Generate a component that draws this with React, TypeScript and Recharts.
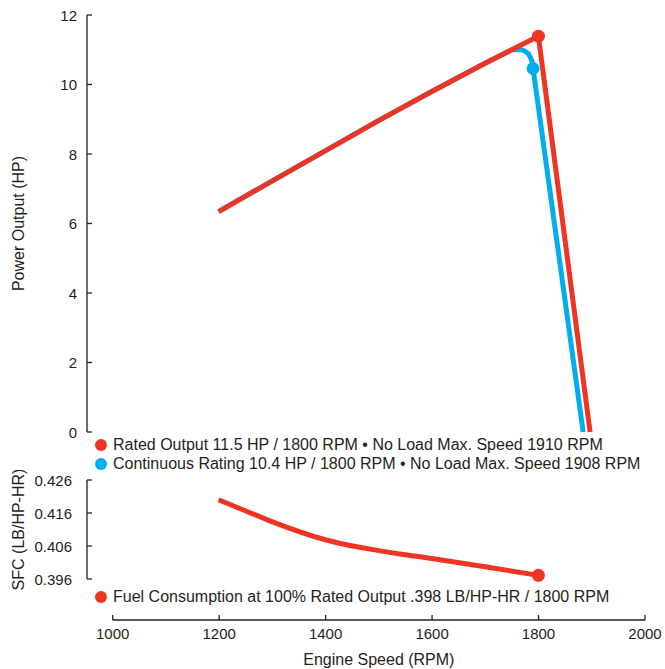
import React from 'react';
import { LineChart, Line, XAxis, YAxis, ReferenceDot, Label } from 'recharts';

const RED = '#EE3524';
const BLUE = '#00AEEF';
const INK = '#231F20';
const FONT = '"Liberation Sans", Arial, Helvetica, sans-serif';

// Rated output curve (HP vs RPM)
const rpmRated = [1200, 1300, 1400, 1500, 1600, 1700, 1800, 1897];
const hpRated = [6.34, 7.22, 8.09, 8.96, 9.8, 10.61, 11.39, 0];

// Continuous rating curve (HP vs RPM)
const rpmCont = [1200, 1300, 1400, 1500, 1600, 1700, 1749, 1758, 1768, 1775, 1781, 1785, 1788, 1790, 1884];
const hpCont = [6.34, 7.22, 8.09, 8.96, 9.8, 10.61, 10.99, 11.01, 11.0, 10.96, 10.89, 10.78, 10.67, 10.46, 0];

// Specific fuel consumption (LB/HP-HR vs RPM)
const rpmSfc = [1200, 1250, 1300, 1400, 1500, 1600, 1700, 1800];
const sfcVals = [0.42, 0.4167, 0.4134, 0.4079, 0.4046, 0.4022, 0.3997, 0.3971];

const ratedPoint = { rpm: 1800, hp: 11.39 };
const contPoint = { rpm: 1790, hp: 10.46 };
const sfcPoint = { rpm: 1800, sfc: 0.3971 };

const hpTicks = [0, 2, 4, 6, 8, 10, 12];
const sfcTicks = [0.396, 0.406, 0.416, 0.426];
const rpmTicks = [1000, 1200, 1400, 1600, 1800, 2000];

const legendRated = 'Rated Output 11.5 HP / 1800 RPM • No Load Max. Speed 1910 RPM';
const legendCont = 'Continuous Rating 10.4 HP / 1800 RPM • No Load Max. Speed 1908 RPM';
const legendSfc = 'Fuel Consumption at 100% Rated Output .398 LB/HP-HR / 1800 RPM';

const ratedData = rpmRated.map((rpm, i) => ({ rpm, hp: hpRated[i] }));
const contData = rpmCont.map((rpm, i) => ({ rpm, hp: hpCont[i] }));
const sfcData = rpmSfc.map((rpm, i) => ({ rpm, sfc: sfcVals[i] }));

const TICK_FS = 15;
const TEXT_FS = 16;

const makeYTick = (gap: number, fmt: (v: number) => string) => (p: any) => (
  <g>
    <line x1={p.x} x2={p.x + 5} y1={p.y} y2={p.y} stroke={INK} strokeWidth={1.3} />
    <text x={p.x - gap} y={p.y} textAnchor="end" dominantBaseline="central" fontSize={TICK_FS} fill={INK} fontFamily={FONT}>
      {fmt(p.payload.value)}
    </text>
  </g>
);

const XTick = (p: any) => (
  <g>
    <line x1={p.x} x2={p.x} y1={p.y} y2={p.y - 5} stroke={INK} strokeWidth={1.3} />
    <text x={p.x} y={p.y + 13} textAnchor="middle" dominantBaseline="central" fontSize={TICK_FS} fill={INK} fontFamily={FONT}>
      {p.payload.value}
    </text>
  </g>
);

const yTitle = (text: string) => (props: any) => {
  const vb = props.viewBox || {};
  const cy = vb.y + vb.height / 2;
  const cx = 18;
  return (
    <text x={cx} y={cy} transform={`rotate(-90 ${cx} ${cy})`} textAnchor="middle" dominantBaseline="central" fontSize={TEXT_FS} fill={INK} fontFamily={FONT}>
      {text}
    </text>
  );
};

const LegendRow = ({ color, text, top }: { color: string; text: string; top: number }) => (
  <div style={{ position: 'absolute', left: 95, top: top - 10, height: 20, display: 'flex', alignItems: 'center', whiteSpace: 'nowrap' }}>
    <span style={{ display: 'inline-block', width: 12, height: 12, borderRadius: 6, background: color, marginRight: 6 }} />
    <span style={{ fontFamily: FONT, fontSize: TEXT_FS, color: INK }}>{text}</span>
  </div>
);

export default function App() {
  return (
    <div style={{ position: 'absolute', left: 0, top: 0, width: 665, height: 669, background: '#fff', overflow: 'hidden' }}>
      <div style={{ position: 'absolute', left: 0, top: 0 }}>
        <LineChart width={665} height={450} margin={{ top: 15, right: 20, bottom: 18, left: 0 }}>
          <XAxis type="number" dataKey="rpm" domain={[1000, 2000]} padding={{ left: 25, right: 0 }} hide allowDataOverflow />
          <YAxis
            type="number"
            domain={[0, 12]}
            ticks={hpTicks}
            width={87}
            tickSize={0}
            tickMargin={0}
            tickLine={false}
            axisLine={{ stroke: INK, strokeWidth: 1.3 }}
            tick={makeYTick(10, (v) => String(v))}
            interval={0}
          >
            <Label content={yTitle('Power Output (HP)')} />
          </YAxis>
          <Line data={contData} dataKey="hp" type="linear" stroke={BLUE} strokeWidth={5} dot={false} isAnimationActive={false} strokeLinejoin="round" />
          <Line data={ratedData} dataKey="hp" type="linear" stroke={RED} strokeWidth={5} dot={false} isAnimationActive={false} strokeLinejoin="round" />
          <ReferenceDot x={contPoint.rpm} y={contPoint.hp} r={6.5} fill={BLUE} stroke="none" ifOverflow="visible" />
          <ReferenceDot x={ratedPoint.rpm} y={ratedPoint.hp} r={6.5} fill={RED} stroke="none" ifOverflow="visible" />
        </LineChart>
      </div>

      <LegendRow color={RED} text={legendRated} top={445} />
      <LegendRow color={BLUE} text={legendCont} top={464} />

      <div style={{ position: 'absolute', left: 0, top: 470 }}>
        <LineChart width={665} height={120} margin={{ top: 10, right: 20, bottom: 11, left: 0 }}>
          <XAxis type="number" dataKey="rpm" domain={[1000, 2000]} padding={{ left: 25, right: 0 }} hide allowDataOverflow />
          <YAxis
            type="number"
            domain={[0.396, 0.426]}
            ticks={sfcTicks}
            width={87}
            tickSize={0}
            tickMargin={0}
            tickLine={false}
            axisLine={{ stroke: INK, strokeWidth: 1.3 }}
            tick={makeYTick(15, (v) => v.toFixed(3))}
            interval={0}
            allowDataOverflow
          >
            <Label content={yTitle('SFC (LB/HP-HR)')} />
          </YAxis>
          <Line data={sfcData} dataKey="sfc" type="monotone" stroke={RED} strokeWidth={5} dot={false} isAnimationActive={false} />
          <ReferenceDot x={sfcPoint.rpm} y={sfcPoint.sfc} r={6.5} fill={RED} stroke="none" ifOverflow="visible" />
        </LineChart>
      </div>

      <LegendRow color={RED} text={legendSfc} top={597} />

      <div style={{ position: 'absolute', left: 0, top: 600 }}>
        <LineChart width={665} height={69} data={sfcData} margin={{ top: 20, right: 20, bottom: 0, left: 112.7 }}>
          <XAxis
            type="number"
            dataKey="rpm"
            domain={[1000, 2000]}
            ticks={rpmTicks}
            interval={0}
            height={49}
            tickSize={0}
            tickMargin={0}
            tickLine={false}
            axisLine={{ stroke: INK, strokeWidth: 1.3 }}
            tick={XTick}
            allowDataOverflow
          >
            <Label
              content={(props: any) => {
                const vb = props.viewBox || {};
                return (
                  <text x={vb.x + vb.width / 2} y={59} textAnchor="middle" dominantBaseline="central" fontSize={TEXT_FS} fill={INK} fontFamily={FONT}>
                    Engine Speed (RPM)
                  </text>
                );
              }}
            />
          </XAxis>
          <YAxis hide domain={[0, 1]} />
        </LineChart>
      </div>
    </div>
  );
}
